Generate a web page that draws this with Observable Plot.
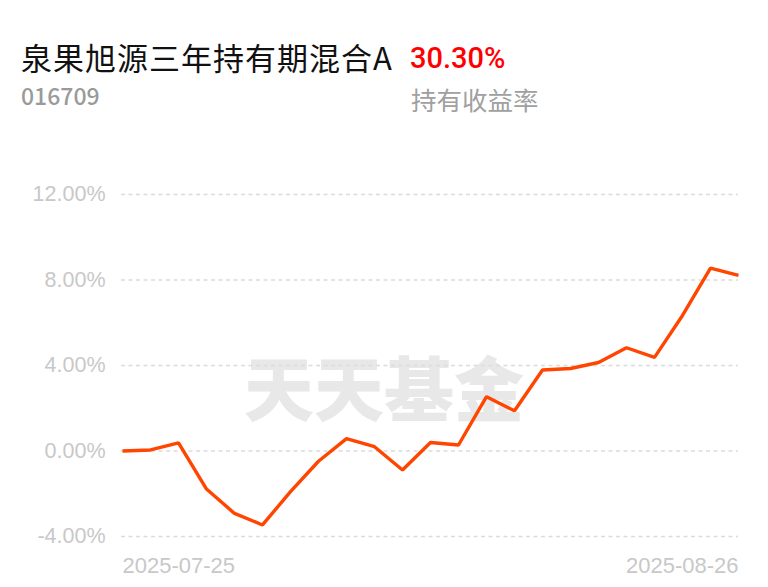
<!DOCTYPE html>
<html>
<head>
<meta charset="utf-8">
<script src="https://cdn.jsdelivr.net/npm/d3@7"></script>
<script src="https://cdn.jsdelivr.net/npm/@observablehq/plot@0.6"></script>
<style>
  html, body { margin: 0; padding: 0; background: #fff; }
  #page { position: relative; width: 768px; height: 587px; overflow: hidden; font-family: "Noto Sans CJK SC", "Noto Sans", sans-serif; }
  .t { position: absolute; line-height: 1; white-space: nowrap; }
  #chart { position: absolute; left: 0; top: 150px; }
</style>
</head>
<body>
<div id="page">
  <div class="t" id="title" style="left:21px; top:41px; font-size:31px; color:#111; letter-spacing:1px;">泉果旭源三年持有期混合A</div>
  <div class="t" id="code" style="left:21px; top:84px; font-size:23px; color:#9a9a9a; font-weight:500;">016709</div>
  <div class="t" id="ret" style="left:410px; top:44px; font-size:29px; color:#ff0000; font-weight:500; font-family:Roboto, sans-serif;">30.30%</div>
  <div class="t" id="retlabel" style="left:411px; top:86px; font-size:25.5px; color:#a0a0a0;">持有收益率</div>
  <div id="chart"></div>
</div>
<script>
const fundName = "泉果旭源三年持有期混合A";
const dates = [
  "2025-07-25","2025-07-28","2025-07-29","2025-07-30","2025-07-31","2025-08-01",
  "2025-08-04","2025-08-05","2025-08-06","2025-08-07","2025-08-08",
  "2025-08-11","2025-08-12","2025-08-13","2025-08-14","2025-08-15",
  "2025-08-18","2025-08-19","2025-08-20","2025-08-21","2025-08-22",
  "2025-08-25","2025-08-26"
];
const returns = [
  0.00, 0.05, 0.38, -1.78, -2.92, -3.46,
  -1.90, -0.48, 0.58, 0.20, -0.89,
  0.40, 0.28, 2.54, 1.88, 3.79,
  3.86, 4.14, 4.83, 4.38, 6.34,
  8.56, 8.22
];
const yTicks = [-4, 0, 4, 8, 12];
const xTickLabels = ["2025-07-25", "2025-08-26"];
const watermark = "天天基金";

const data = dates.map((d, i) => ({date: d, value: returns[i]}));

const plot = Plot.plot({
  width: 768,
  height: 437,
  marginTop: 44,
  marginBottom: 51,
  marginLeft: 121,
  marginRight: 30,
  style: {background: "transparent", overflow: "visible"},
  x: {type: "point", domain: dates, padding: 0},
  y: {domain: [-4, 12]},
  marks: [
    Plot.text([watermark], {
      text: d => d, frameAnchor: "middle", dx: -46, dy: 28,
      fontSize: 70, fontWeight: 900, fill: "#e8e8e8",
      fontFamily: "Noto Sans CJK SC"
    }),
    Plot.gridY(yTicks, {stroke: "#dcdcdc", strokeOpacity: 1, strokeWidth: 1.5, strokeDasharray: "4,3.5"}),
    Plot.axisY({
      ticks: yTicks, tickSize: 0, tickPadding: 16,
      tickFormat: d => d.toFixed(2) + "%",
      fontSize: 21.5, fill: "#c8c8c8", fontFamily: "Liberation Sans, Arial, sans-serif",
      label: null
    }),
    Plot.axisX({
      ticks: [xTickLabels[0]], tickSize: 0, tickPadding: 21, textAnchor: "start",
      fontSize: 22, fill: "#c8c8c8", fontFamily: "Liberation Sans, Arial, sans-serif",
      label: null
    }),
    Plot.axisX({
      ticks: [xTickLabels[1]], tickSize: 0, tickPadding: 21, textAnchor: "end",
      fontSize: 22, fill: "#c8c8c8", fontFamily: "Liberation Sans, Arial, sans-serif",
      label: null
    }),
    Plot.line(data, {x: "date", y: "value", stroke: "#ff4500", strokeWidth: 3.4, strokeLinejoin: "miter", strokeLinecap: "butt"})
  ]
});
document.getElementById("chart").appendChild(plot);
</script>
</body>
</html>
